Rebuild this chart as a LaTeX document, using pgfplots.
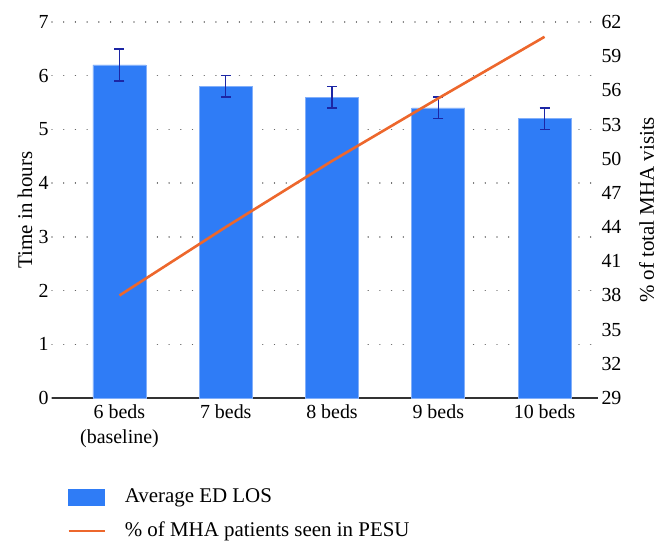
\documentclass[border=0pt]{standalone}
\usepackage{fontspec}
\setmainfont{Liberation Serif}
\usepackage{pgfplots}
\pgfplotsset{compat=1.18}

\definecolor{barblue}{RGB}{47,124,246}
\definecolor{baredge}{RGB}{130,175,250}
\definecolor{errnavy}{RGB}{28,38,165}
\definecolor{lineorange}{RGB}{237,103,44}
\definecolor{gridgray}{RGB}{100,100,100}

\pgfplotsset{
  common/.style={
    scale only axis, width=546bp, height=376bp,
    xmin=-0.635, xmax=4.503,
    major tick length=0pt,
    /pgf/number format/assume math mode=true,
    ticklabel style={font=\rmfamily\fontsize{20}{25}\selectfont},
    label style={font=\rmfamily\fontsize{21}{25}\selectfont},
  }
}

\begin{document}
\begin{tikzpicture}
\useasboundingbox (-52bp,-157bp) rectangle (616bp,398bp);
\begin{axis}[common,
  ymin=0, ymax=7, ytick={0,...,7},
  axis x line*=bottom, axis y line*=left,
  y axis line style={draw=none},
  x axis line style={draw=black!80, line width=1.4bp, -},
  xtick={0,...,4},
  xticklabels={{6 beds\\(baseline)},7 beds,8 beds,9 beds,10 beds},
  xticklabel style={align=center, yshift=-3bp},
  ymajorgrids,
  major grid style={gridgray, line width=1.4bp, dash pattern=on 0.01bp off 11.7bp, line cap=round},
  ylabel={Time in hours},
  ylabel style={at={(axis description cs:-0.0495,0.5)}, anchor=center},
  legend style={at={(axis description cs:0.0275,-0.239)}, anchor=north west,
    draw=none, fill=none, inner sep=0pt, row sep=16bp, column sep=19bp,
    font=\rmfamily\fontsize{21}{25}\selectfont,
    nodes={inner sep=0pt, text height=14bp, text depth=4bp},
    cells={anchor=west}},
]
\addplot[ybar, bar width=53bp, fill=barblue, draw=baredge, line width=0.6bp, forget plot,
  error bars/.cd, y dir=both, y explicit,
  error bar style={errnavy, line width=1.4bp},
  error mark options={errnavy, mark size=5bp, line width=1.4bp, rotate=90}]
  coordinates {(0,6.2) +- (0,0.3) (1,5.8) +- (0,0.2) (2,5.6) +- (0,0.2)
               (3,5.4) +- (0,0.2) (4,5.2) +- (0,0.2)};
\addlegendimage{legend image code/.code={\fill[barblue] (0bp,-8bp) rectangle (36bp,8bp);}}
\addlegendentry{Average ED LOS}
\addlegendimage{legend image code/.code={\path[draw=none, fill=none] (0bp,-8bp) rectangle (36bp,8bp);
  \draw[lineorange, line width=2.6bp] (0bp,0bp) -- (36bp,0bp);}}
\addlegendentry{\% of MHA patients seen in PESU}
\end{axis}
\begin{axis}[common,
  ymin=29, ymax=62, ytick={29,32,...,62},
  axis y line*=right, axis x line=none,
  y axis line style={draw=none},
  ylabel={\% of total MHA visits},
  ylabel style={at={(axis description cs:1.089,0.5)}, anchor=center},
]
\addplot[lineorange, line width=2.6bp, no marks]
  coordinates {(0,38.0) (1,44.0) (2,49.8) (3,55.3) (4,60.7)};
\end{axis}
\end{tikzpicture}
\end{document}
